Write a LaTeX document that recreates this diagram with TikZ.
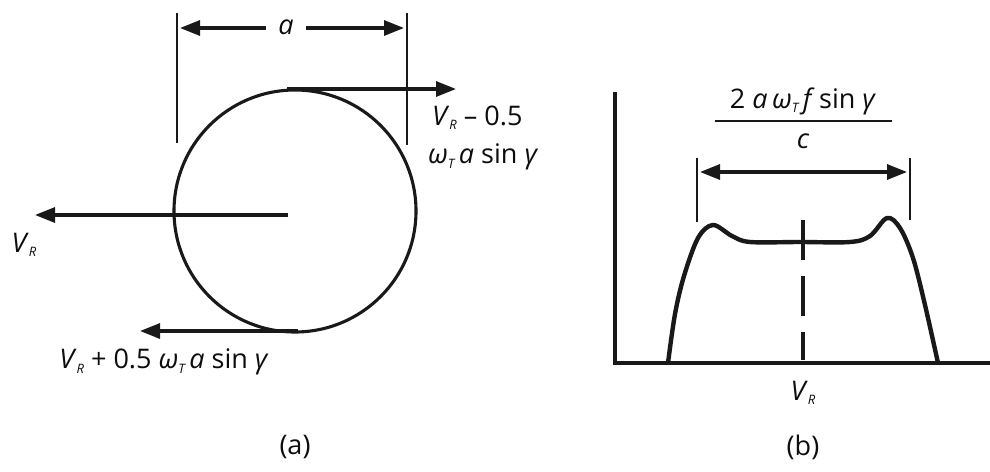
\documentclass[tikz,border=0pt]{standalone}
\usepackage{fontspec}
\setmainfont{Open Sans}
\usetikzlibrary{arrows.meta}
\newcommand\vsub[1]{\raisebox{-0.3ex}{\fontsize{13}{13}\selectfont\itshape #1}}
\newcommand\vi[1]{\textit{#1}}
\begin{document}
\begin{tikzpicture}[x=1pt,y=-1pt,
  ln/.style={line width=3.1pt, draw=black!90},
  tick/.style={line width=2.4pt, draw=black!90},
  arr/.style={ln, -{Triangle[length=20pt,width=15pt]}},
  darr/.style={ln, {Triangle[length=20pt,width=15pt]}-{Triangle[length=20pt,width=15pt]}},
  lbl/.style={font=\fontsize{27}{30}\selectfont, text=black!95, inner sep=0pt},
  captext/.style={font=\fontsize{27}{30}\selectfont, text=black!95, inner sep=0pt}]
\useasboundingbox (0,0) rectangle (990,471);
% ---------- panel (a) ----------
\coordinate (c) at (295,211);
\draw[ln] (c) circle (121);
\coordinate (L1) at (177,13); \coordinate (L2) at (177,143);
\coordinate (R1) at (407,13); \coordinate (R2) at (407,145);
\draw[tick] (L1) -- (L2);
\draw[tick] (R1) -- (R2);
\node[lbl] (alab) at (286,27) {\vi{a}};
\coordinate (aL) at (180,28); \coordinate (aR) at (404,28);
\draw[arr] (alab.west) ++(-12,1) -- (aL);
\draw[arr] (alab.east) ++(12,1) -- (aR);
\coordinate (top) at (287,89); \coordinate (topE) at (456,89);
\draw[arr] (top) -- (topE);
\node[lbl, anchor=west] (t1) at (432,118) {\vi{V}\vsub{R} – 0.5};
\node[lbl, anchor=west] (t2) at (428,157) {\vi{ω}\vsub{T}\,\vi{a} sin \vi{γ}};
\coordinate (mid) at (288,215); \coordinate (midW) at (35,215);
\draw[arr] (mid) -- (midW);
\node[lbl] (vr) at (24,245) {\vi{V}\vsub{R}};
\coordinate (bot) at (298,331); \coordinate (botW) at (140,331);
\draw[arr] (bot) -- (botW);
\node[lbl] (blab) at (164,362) {\vi{V}\vsub{R} + 0.5 \vi{ω}\vsub{T}\,\vi{a} sin \vi{γ}};
\node[captext] (capa) at (295,447) {(a)};
% ---------- panel (b) ----------
\coordinate (o) at (615,363); \coordinate (yt) at (615,92); \coordinate (xe) at (990,363);
\draw[ln] (yt) -- (o) -- (xe);
\node[lbl] (num) at (803,101) {2 \vi{a}\,\vi{ω}\vsub{T}\,\vi{f}\,sin \vi{γ}};
\coordinate (fb1) at (715,121); \coordinate (fb2) at (892,121);
\draw[line width=2.2pt, black!90] (fb1) -- (fb2);
\node[lbl] (den) at (803,141) {\vi{c}};
\coordinate (dl1) at (697,158); \coordinate (dl2) at (697,222);
\coordinate (dr1) at (910,158); \coordinate (dr2) at (910,220);
\draw[tick] (dl1) -- (dl2);
\draw[tick] (dr1) -- (dr2);
\coordinate (wl) at (700,172); \coordinate (wr) at (907,172);
\draw[darr] (wl) -- (wr);
\draw[line width=4.4pt, black!90, line join=round] plot[smooth, tension=0.55] coordinates
 {(668,363) (675,314) (684,276) (698,238) (713,225) (732,236) (750,242) (800,242) (850,242) (870,236) (887,218) (900,228) (913,258) (925,305) (938,363)};
\coordinate (d1) at (803,220); \coordinate (d2) at (803,360);
\draw[line width=3.6pt, black!90, dash pattern=on 40pt off 16pt] (d1) -- (d2);
\node[lbl] (vrb) at (803,393) {\vi{V}\vsub{R}};
\node[captext] (capb) at (803,447) {(b)};
\end{tikzpicture}
\end{document}
